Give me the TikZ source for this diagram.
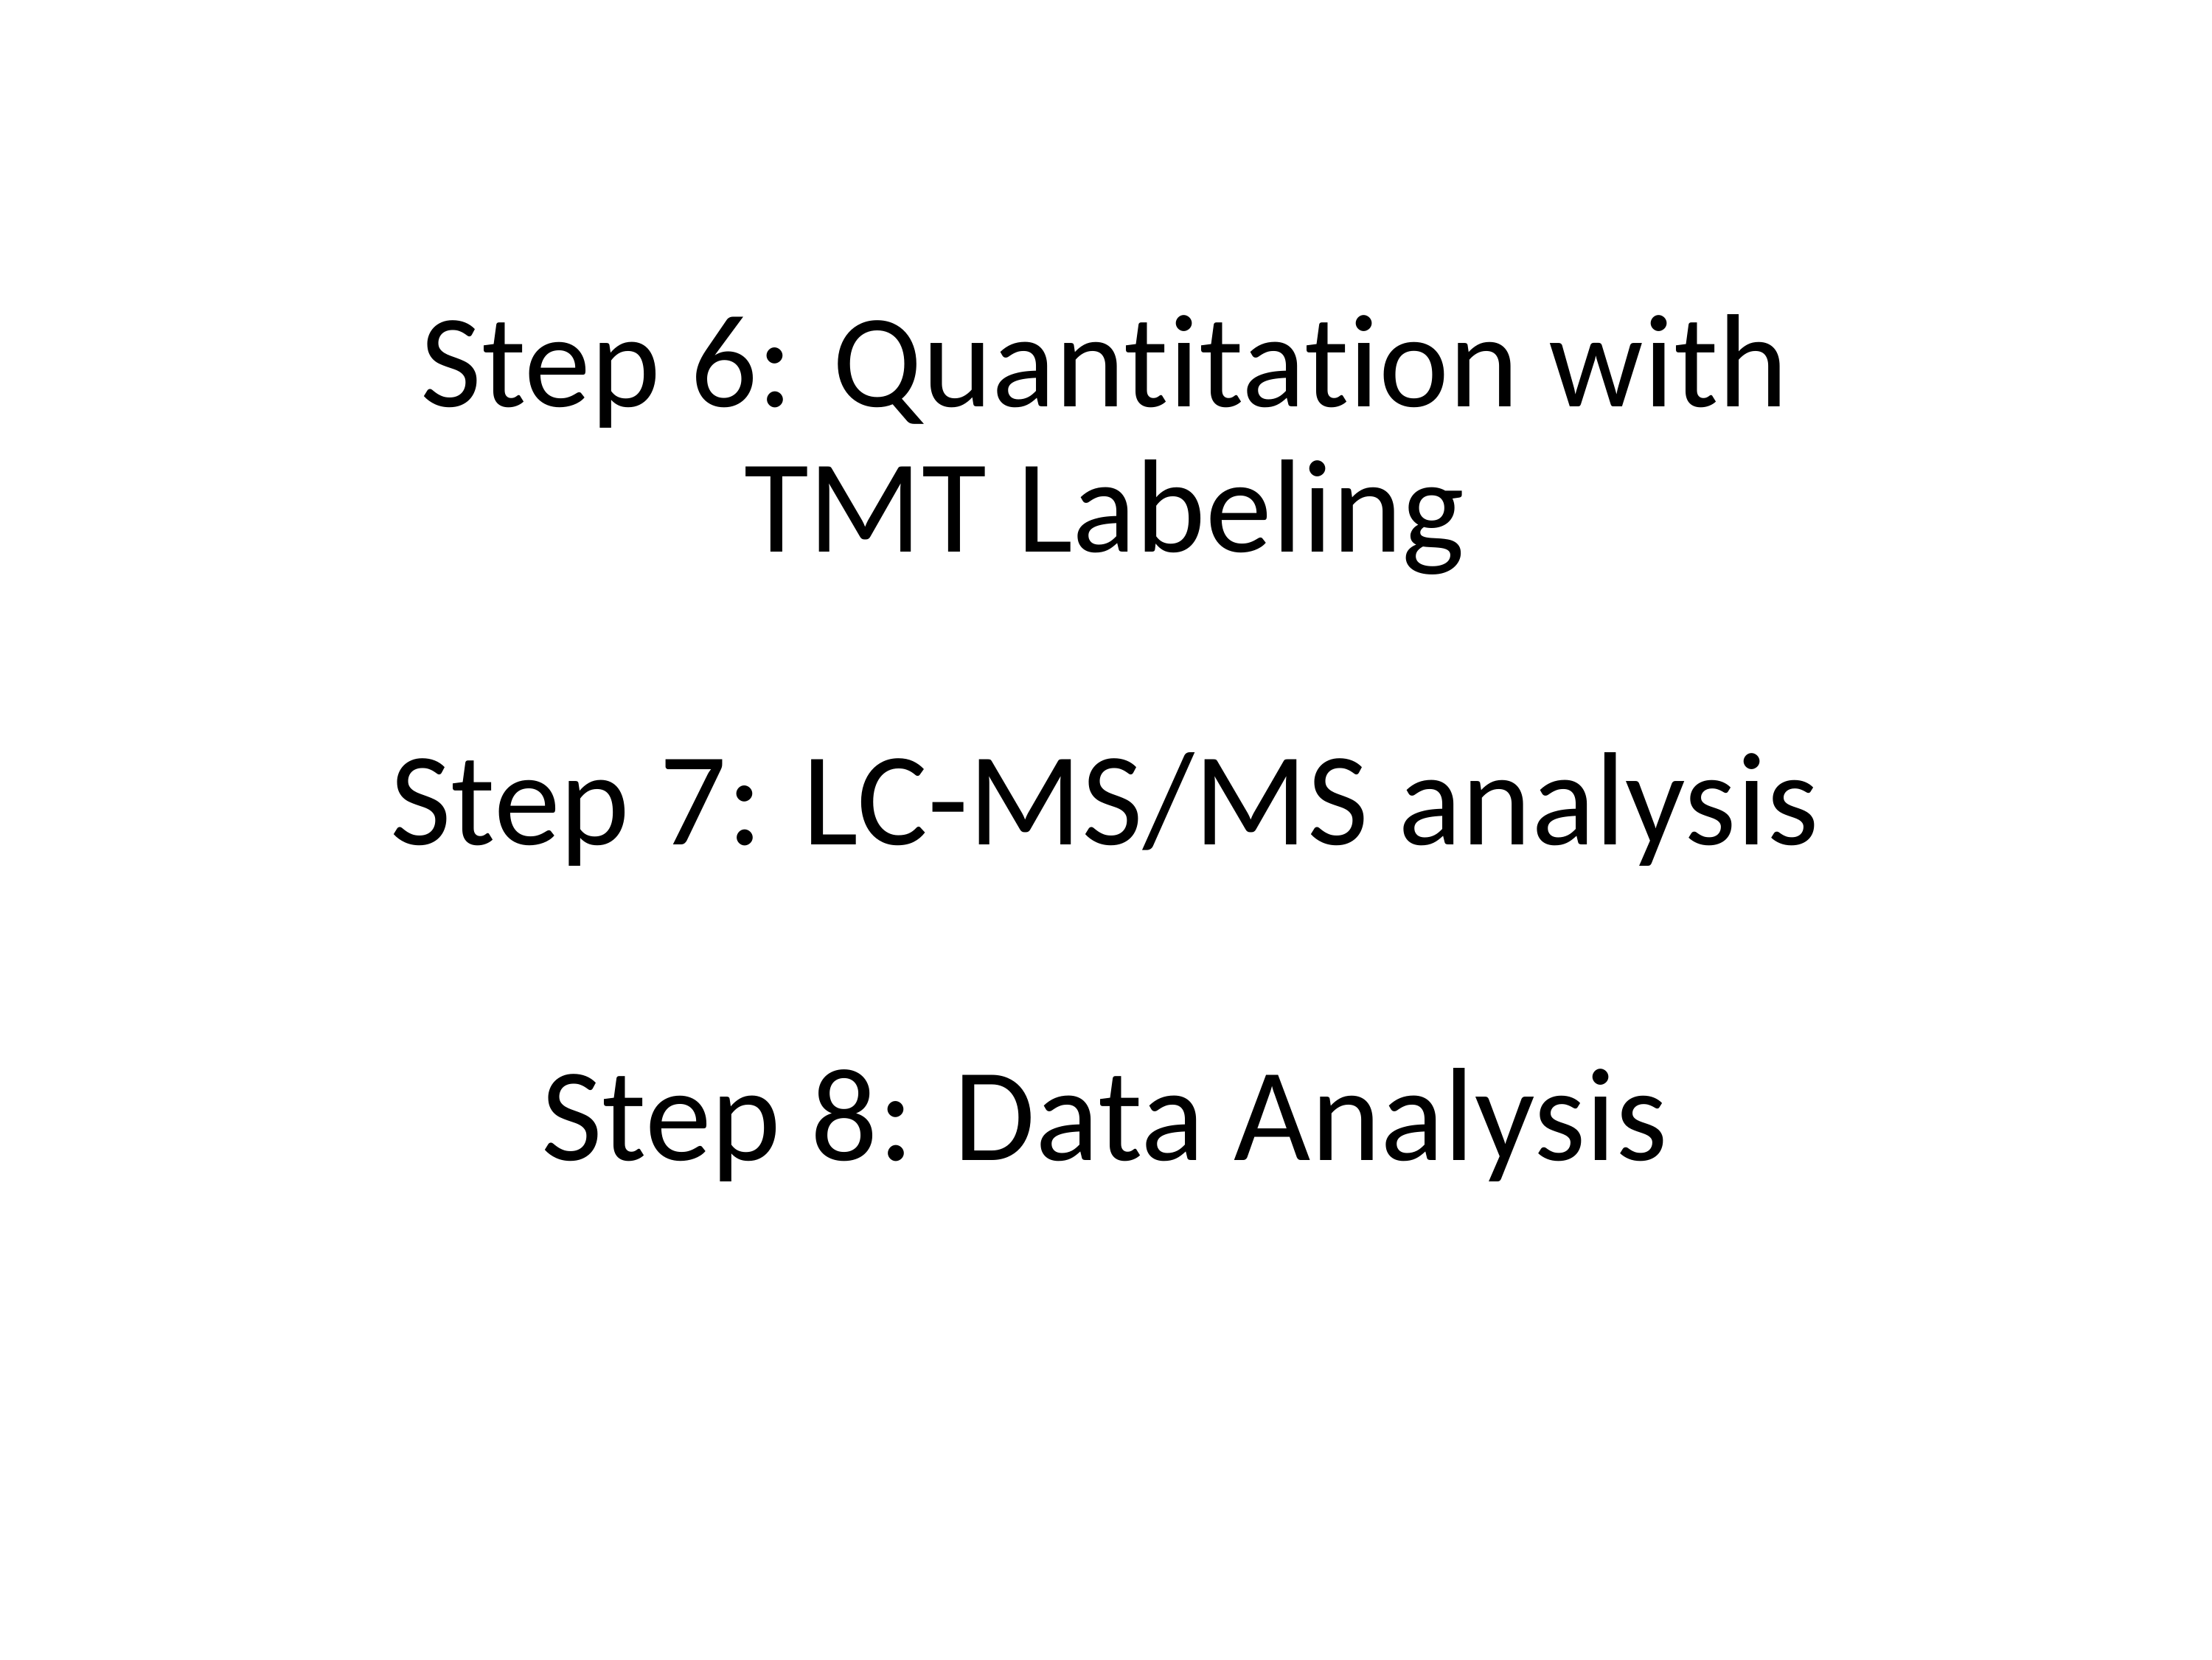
\documentclass[tikz,border=0pt]{standalone}
\usepackage{fontspec}
\setmainfont[Ligatures={NoCommon,NoContextual}]{Carlito}
\begin{document}
\begin{tikzpicture}[x=1pt,y=1pt,
  steptext/.style={anchor=base,inner sep=0pt,font=\fontsize{48}{52}\selectfont,text=black}]
\fill[white] (0,0) rectangle (800,600);
\useasboundingbox (0,0) rectangle (800,600);
\node[steptext] (s6a) at (399.5,452.8) {Step 6: Quantitation with};
\node[steptext] (s6b) at (399.5,400.5) {TMT Labeling};
\node[steptext] (s7) at (399.5,294.4) {Step 7: LC-MS/MS analysis};
\node[steptext] (s8) at (399.5,180.5) {Step 8: Data Analysis};
\end{tikzpicture}
\end{document}
